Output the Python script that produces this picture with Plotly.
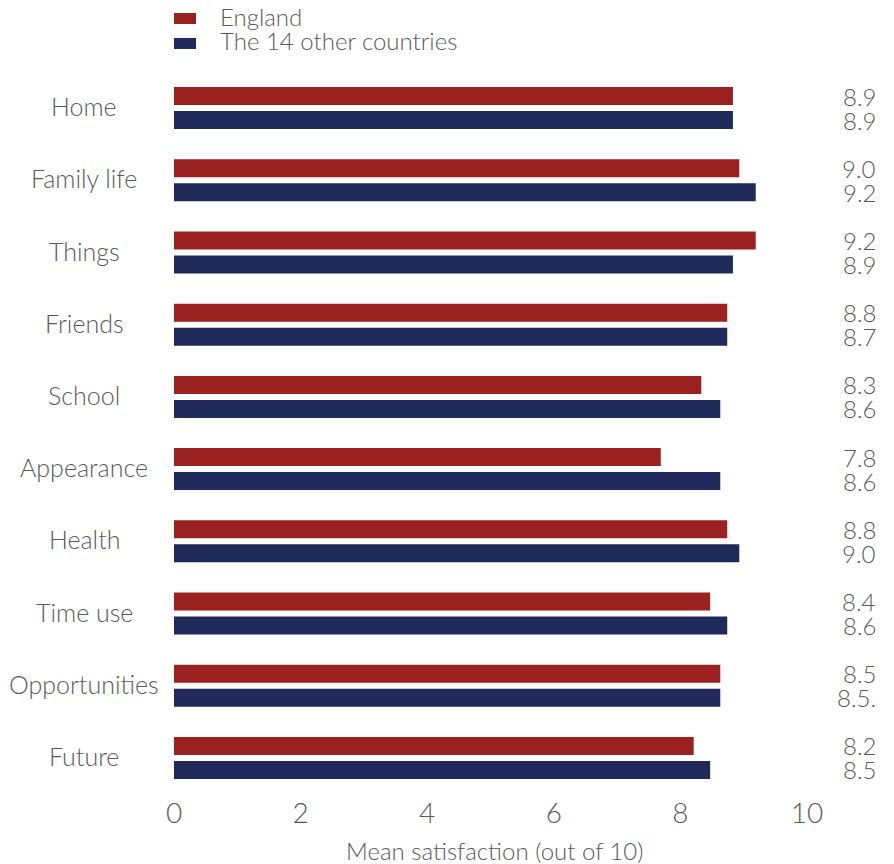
import plotly.graph_objects as go

categories = ["Home", "Family life", "Things", "Friends", "School", "Appearance",
              "Health", "Time use", "Opportunities", "Future"]
england = [8.83, 8.93, 9.19, 8.74, 8.33, 7.69, 8.74, 8.47, 8.63, 8.21]
others = [8.83, 9.19, 8.83, 8.74, 8.63, 8.63, 8.93, 8.74, 8.63, 8.47]
england_labels = ["8.9", "9.0", "9.2", "8.8", "8.3", "7.8", "8.8", "8.4", "8.5", "8.2"]
others_labels = ["8.9", "9.2", "8.9", "8.7", "8.6", "8.6", "9.0", "8.6", "8.5.", "8.5"]
x_ticks = [0, 2, 4, 6, 8, 10]
series_names = ["England", "The 14 other countries"]
x_title = "Mean satisfaction (out of 10)"

RED = "#9b2120"
NAVY = "#1f2a5a"
TXT = "#5a5a5a"
FONT = "Lato Light, Lato"

fig = go.Figure()
fig.add_trace(go.Bar(y=categories, x=england, orientation="h", name=series_names[0],
                     marker=dict(color=RED, line=dict(width=0))))
fig.add_trace(go.Bar(y=categories, x=others, orientation="h", name=series_names[1],
                     marker=dict(color=NAVY, line=dict(width=0))))

def f(size):
    return dict(family=FONT, size=size, color=TXT, weight=300)

annotations = []
for c, e, o in zip(categories, england_labels, others_labels):
    annotations.append(dict(x=-0.142, xref="paper", y=c, yref="y", text=c, showarrow=False,
                            xanchor="center", yanchor="middle", yshift=2, font=f(25)))
    annotations.append(dict(x=1.112, xref="paper", y=c, yref="y", text=e, showarrow=False,
                            xanchor="right", yanchor="middle", yshift=12, font=f(24)))
    annotations.append(dict(x=1.112, xref="paper", y=c, yref="y", text=o, showarrow=False,
                            xanchor="right", yanchor="middle", yshift=-12, font=f(24)))

# x-axis title
annotations.append(dict(x=0.506, xref="paper", y=-0.0776, yref="paper", text=x_title,
                        showarrow=False, xanchor="center", yanchor="middle", font=f(24)))

# manual legend
legend_y = [1.0765, 1.0433]
swatch_y = [(1.0665, 1.0817), (1.0319, 1.0471)]
shapes = []
for name, col, ly, (y0, y1) in zip(series_names, [RED, NAVY], legend_y, swatch_y):
    annotations.append(dict(x=0.0695, xref="paper", y=ly, yref="paper", text=name,
                            showarrow=False, xanchor="left", yanchor="middle", font=f(24)))
    shapes.append(dict(type="rect", xref="paper", yref="paper", x0=0, x1=0.0348,
                       y0=y0, y1=y1, fillcolor=col, line=dict(width=0)))

fig.update_layout(
    width=886, height=856,
    margin=dict(l=166, r=87, t=64, b=70),
    paper_bgcolor="white", plot_bgcolor="white",
    barmode="group", bargap=0.335, bargroupgap=0.25,
    font=f(20),
    showlegend=False,
    annotations=annotations,
    shapes=shapes,
    xaxis=dict(range=[0, 10], tickvals=x_ticks, showgrid=False, zeroline=False,
               showline=False, ticks="", tickfont=f(28), automargin=False),
    yaxis=dict(autorange="reversed", showticklabels=False, showgrid=False,
               zeroline=False, showline=False, ticks="", automargin=False),
)

fig.write_html("out.html")
